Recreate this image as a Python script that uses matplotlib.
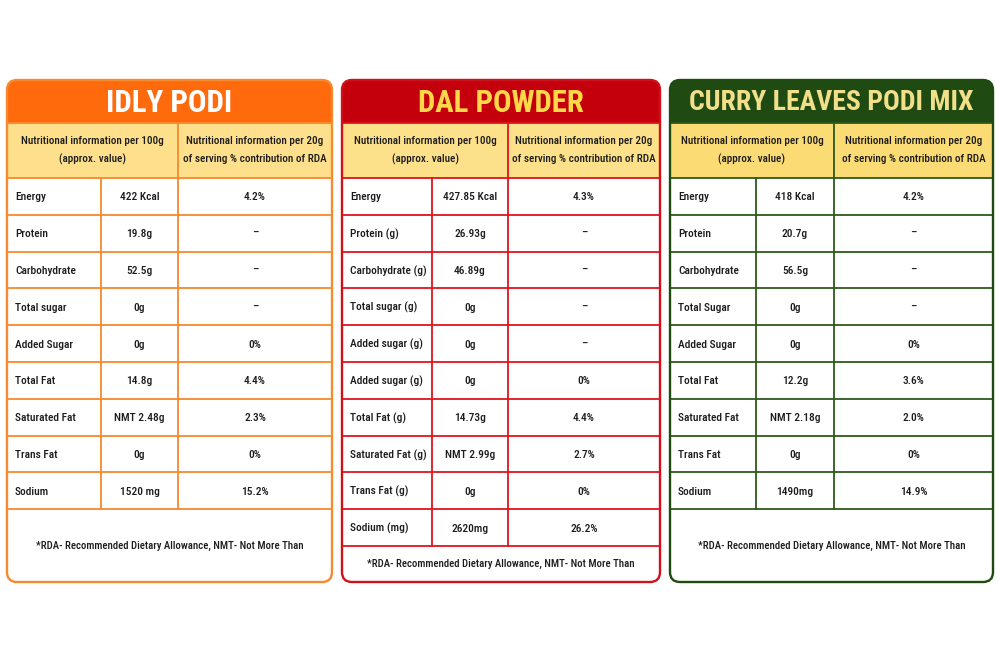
import matplotlib
matplotlib.use('Agg')
import matplotlib.pyplot as plt
from matplotlib import font_manager as fm
from matplotlib.patches import FancyBboxPatch, Rectangle

# ---------------- data ----------------
titles = ["IDLY PODI", "DAL POWDER", "CURRY LEAVES PODI MIX"]
header_left = ["Nutritional information per 100g", "(approx. value)"]
header_right = ["Nutritional information per 20g", "of serving % contribution of RDA"]
footnote = "*RDA- Recommended Dietary Allowance, NMT- Not More Than"

idly_nutrients = ["Energy", "Protein", "Carbohydrate", "Total sugar", "Added Sugar",
                  "Total Fat", "Saturated Fat", "Trans Fat", "Sodium"]
idly_values = ["422 Kcal", "19.8g", "52.5g", "0g", "0g", "14.8g", "NMT 2.48g", "0g", "1520 mg"]
idly_rda = ["4.2%", "–", "–", "–", "0%", "4.4%", "2.3%", "0%", "15.2%"]

dal_nutrients = ["Energy", "Protein (g)", "Carbohydrate (g)", "Total sugar (g)", "Added sugar (g)",
                 "Added sugar (g)", "Total Fat (g)", "Saturated Fat (g)", "Trans Fat (g)", "Sodium (mg)"]
dal_values = ["427.85 Kcal", "26.93g", "46.89g", "0g", "0g", "0g", "14.73g", "NMT 2.99g", "0g", "2620mg"]
dal_rda = ["4.3%", "–", "–", "–", "–", "0%", "4.4%", "2.7%", "0%", "26.2%"]

curry_nutrients = ["Energy", "Protein", "Carbohydrate", "Total Sugar", "Added Sugar",
                   "Total Fat", "Saturated Fat", "Trans Fat", "Sodium"]
curry_values = ["418 Kcal", "20.7g", "56.5g", "0g", "0g", "12.2g", "NMT 2.18g", "0g", "1490mg"]
curry_rda = ["4.2%", "–", "–", "–", "0%", "3.6%", "2.0%", "0%", "14.9%"]

tables = [(idly_nutrients, idly_values, idly_rda),
          (dal_nutrients, dal_values, dal_rda),
          (curry_nutrients, curry_values, curry_rda)]

# ---------------- font choice: prefer a narrow / condensed sans ----------------
ttf = fm.fontManager.ttflist
avail = {f.name for f in ttf}
FONT = None
STRETCH = 'normal'
for cand in ['Liberation Sans Narrow', 'Noto Sans ExtraCondensed', 'Roboto Condensed',
             'Open Sans Condensed', 'Noto Sans Condensed', 'DejaVu Sans Condensed',
             'Arial Narrow']:
    if cand in avail:
        FONT = cand
        break
if FONT is None:
    for f in ttf:
        if ('Condensed' in f.name or 'Narrow' in f.name) and 'Mono' not in f.name \
                and 'Serif' not in f.name and 'CJK' not in f.name:
            FONT = f.name
            break
if FONT is None:
    FONT = 'DejaVu Sans'
FAM = [FONT, 'DejaVu Sans']
weights = {f.weight for f in ttf if f.name == FONT}
BODY_W = 'medium' if (500 in weights or 'medium' in weights) else 'normal'

# ---------------- layout / style ----------------
cols = [(7, 101, 178, 332), (342, 432, 508, 660), (670, 756, 834, 993)]
TOP, TITLE_B, HEAD_B, ROW_H = 80, 123, 178, 36.8
BOTTOM = 582
title_widths = [126, 165, 283]
styles = [
    dict(title_bg='#FF6A0C', title_fg='white', head_bg='#FEDF8C', line='#F7892E', border='#F7892E'),
    dict(title_bg='#C4000C', title_fg='#FFD84A', head_bg='#FCE08A', line='#E0141E', border='#D0101A'),
    dict(title_bg='#1F4A12', title_fg='#F2DF8A', head_bg='#FADB74', line='#2C5A1C', border='#1F4A12'),
]

fig = plt.figure(figsize=(10, 6.67), dpi=100)
ax = fig.add_axes([0, 0, 1, 1])
ax.set_xlim(0, 1000)
ax.set_ylim(667, 0)
ax.axis('off')
renderer = fig.canvas.get_renderer()


def width_px(s, size, weight='normal'):
    t = fig.text(0, 0, s, fontsize=size, family=FAM, fontweight=weight, fontstretch=STRETCH)
    w = t.get_window_extent(renderer).width
    t.remove()
    return w


def fit(s, target, maxsize, weight='normal'):
    w = width_px(s, 10, weight)
    return min(maxsize, 10 * target / w)


BODY = min(fit("Saturated Fat", 68, 10.5, BODY_W), fit("Saturated Fat (g)", 76, 10.5, BODY_W))
HEAD = fit("Nutritional information per 100g", 142, 9.5, BODY_W)
FOOT = fit(footnote, 267, 9.5, BODY_W)
TXT = dict(family=FAM, fontstretch=STRETCH, fontweight=BODY_W, color='#1c1c1c', zorder=6)

for (nutr, vals, rda), (x0, x1, x2, x3), st, title, tw in zip(tables, cols, styles, titles, title_widths):
    outer = FancyBboxPatch((x0, TOP), x3 - x0, BOTTOM - TOP,
                           boxstyle="round,pad=0,rounding_size=10",
                           facecolor='white', edgecolor='none', zorder=1)
    ax.add_patch(outer)
    tb = Rectangle((x0 - 2, TOP - 2), x3 - x0 + 4, TITLE_B - TOP + 2,
                   facecolor=st['title_bg'], edgecolor='none', zorder=2)
    ax.add_patch(tb)
    tb.set_clip_path(outer)
    hb = Rectangle((x0, TITLE_B), x3 - x0, HEAD_B - TITLE_B,
                   facecolor=st['head_bg'], edgecolor='none', zorder=2)
    ax.add_patch(hb)
    border = FancyBboxPatch((x0, TOP), x3 - x0, BOTTOM - TOP,
                            boxstyle="round,pad=0,rounding_size=10",
                            facecolor='none', edgecolor=st['border'],
                            linewidth=1.7, zorder=5)
    ax.add_patch(border)

    tsize = fit(title, tw, 24, 'bold')
    ax.text((x0 + x3) / 2, (TOP + TITLE_B) / 2 + 1, title, ha='center', va='center',
            fontsize=tsize, fontweight='bold', family=FAM, fontstretch=STRETCH,
            color=st['title_fg'], zorder=6)

    n = len(nutr)
    rows_bottom = HEAD_B + n * ROW_H
    lw = 1.3
    ax.plot([x0, x3], [TITLE_B, TITLE_B], color=st['line'], lw=lw, zorder=4)
    for i in range(n + 1):
        y = HEAD_B + i * ROW_H
        ax.plot([x0, x3], [y, y], color=st['line'], lw=lw, zorder=4)
    ax.plot([x2, x2], [TITLE_B, rows_bottom], color=st['line'], lw=lw, zorder=4)
    ax.plot([x1, x1], [HEAD_B, rows_bottom], color=st['line'], lw=lw, zorder=4)

    hy = (TITLE_B + HEAD_B) / 2
    for k in range(2):
        ax.text((x0 + x2) / 2, hy + (2 * k - 1) * 9, header_left[k], ha='center',
                va='center', fontsize=HEAD, **TXT)
        ax.text((x2 + x3) / 2, hy + (2 * k - 1) * 9, header_right[k], ha='center',
                va='center', fontsize=HEAD, **TXT)

    for i in range(n):
        yc = HEAD_B + (i + 0.5) * ROW_H + 1
        ax.text(x0 + 8, yc, nutr[i], ha='left', va='center', fontsize=BODY, **TXT)
        ax.text((x1 + x2) / 2, yc, vals[i], ha='center', va='center', fontsize=BODY, **TXT)
        ax.text((x2 + x3) / 2, yc, rda[i], ha='center', va='center', fontsize=BODY, **TXT)

    ax.text((x0 + x3) / 2, (rows_bottom + BOTTOM) / 2, footnote, ha='center',
            va='center', fontsize=FOOT, **TXT)

fig.savefig('out.png', dpi=100, facecolor='white')
